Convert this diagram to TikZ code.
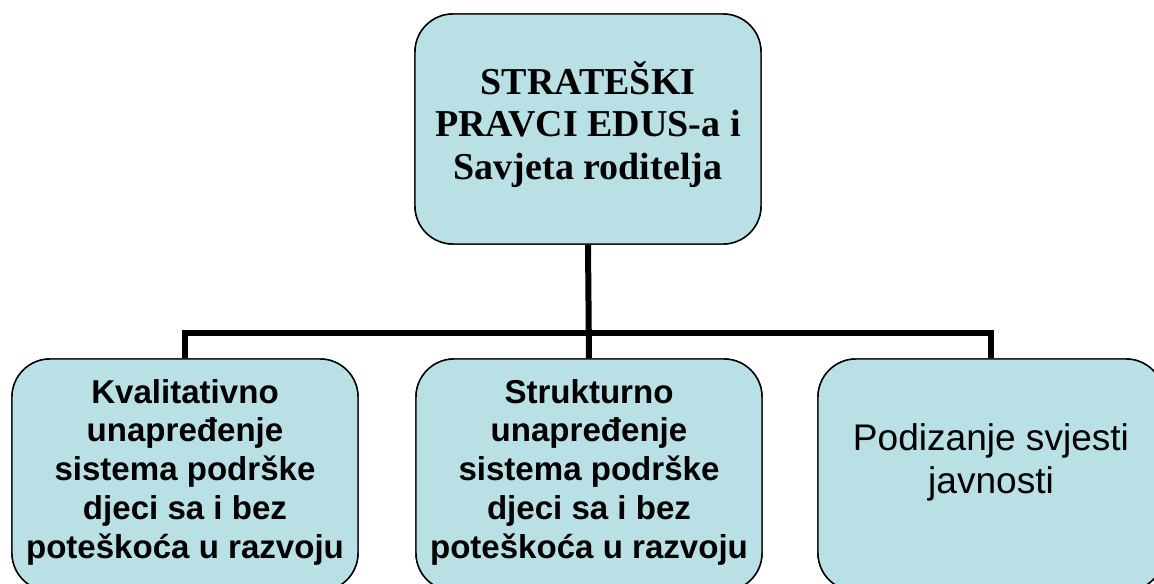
\documentclass[tikz,border=0pt]{standalone}
\usepackage{fontspec}
\setmainfont{Liberation Serif}
\setsansfont{Liberation Sans}
\definecolor{boxfill}{RGB}{185,224,228}
\tikzset{
  box/.style={draw=black, line width=1.1pt, fill=boxfill, rounded corners=28.5pt,
    minimum width=259.5pt, inner sep=0pt},
  conn/.style={draw=black, line width=4.5pt},
  toptext/.style={font=\rmfamily\bfseries\fontsize{28.5}{31.9}\selectfont, align=center, inner sep=0pt},
  subtext/.style={font=\sffamily\bfseries\fontsize{24.8}{29.06}\selectfont, align=center, inner sep=0pt},
  plaintext/.style={font=\sffamily\fontsize{27.8}{32.25}\selectfont, align=center, inner sep=0pt}
}
\begin{document}
\begin{tikzpicture}[x=0.75pt, y=-0.75pt]
\useasboundingbox (0,0) rectangle (1154,584);
\clip (0,0) rectangle (1154,584);
\fill[white] (0,0) rectangle (1154,584);
\coordinate (bus) at (588,333);
\node[box, minimum height=172.5pt] (top) at (588,129) {};
\node[box, minimum height=174pt] (left) at (185,475) {};
\node[box, minimum height=174pt] (mid) at (589,475) {};
\node[box, minimum height=174pt] (right) at (991,475) {};
\draw[conn] (left.north) |- (bus) -| (right.north);
\draw[conn] (top.south) -- (mid.north);
\node[box, minimum height=172.5pt] at (top) {};
\node[box, minimum height=174pt] at (left) {};
\node[box, minimum height=174pt] at (mid) {};
\node[box, minimum height=174pt] at (right) {};
\node[toptext] (toplabel) at (588,124.5) {STRATEŠKI\\PRAVCI EDUS-a i\\Savjeta roditelja};
\node[subtext] (leftlabel) at (185,472) {Kvalitativno\\unapređenje\\sistema podrške\\djeci sa i bez\\poteškoća u razvoju};
\node[subtext] (midlabel) at (589,472) {Strukturno\\unapređenje\\sistema podrške\\djeci sa i bez\\poteškoća u razvoju};
\node[plaintext] (rightlabel) at (991,462) {Podizanje svjesti\\javnosti};
\end{tikzpicture}
\end{document}
